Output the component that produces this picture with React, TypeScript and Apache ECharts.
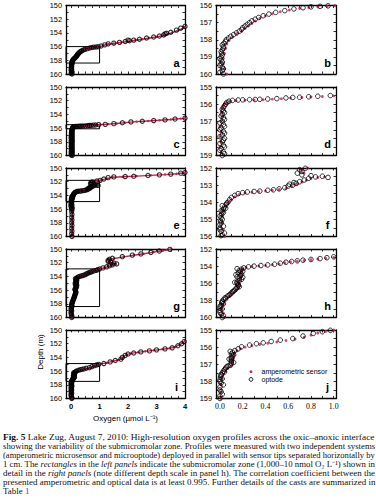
import React, { useEffect, useRef } from "react";
import * as echarts from "echarts";

// ---------- data: [oxygen (µmol/L), depth (m)] ----------
const castA_optode: number[][] = [
  [0.03,160.0],[0.0,159.9],[0.02,159.8],[0.03,159.7],[0.02,159.6],[0.0,159.5],[0.01,159.4],[0.02,159.3],[0.01,159.2],[0.0,159.1],
  [0.01,159.0],[0.02,158.9],[0.015,158.8],[0.01,158.7],[0.02,158.6],[0.03,158.5],[0.03,158.4],[0.02,158.3],[0.035,158.2],[0.05,158.1],
  [0.055,158.0],[0.075,157.9],[0.095,157.8],[0.12,157.7],[0.145,157.6],[0.17,157.5],[0.19,157.4],[0.2,157.3],[0.22,157.2],[0.24,157.1],
  [0.26,157.0],[0.28,156.9],[0.31,156.8],[0.34,156.7],[0.38,156.6],[0.43,156.5],[0.49,156.4],[0.57,156.3],[0.65,156.2],[0.73,156.13],
  [0.8,156.08],[0.88,156.05],[0.95,156.02],[1.05,155.92],[1.18,155.75],[1.3,155.6],[1.5,155.5],[1.7,155.38],[1.9,155.25],[2.05,155.15],
  [2.0,155.05],[2.2,155.05],[2.4,154.92],[2.65,154.75],[2.9,154.6],[3.1,154.45],[3.25,154.3],[3.3,154.15],[3.35,154.05],[3.5,153.9],
  [3.7,153.6],[3.85,153.3],[4.0,153.05]
];
const castA_amperometric: number[][] = [
  [0.06,160.0],[0.04,159.7],[0.03,159.4],[0.03,159.1],[0.04,158.8],[0.05,158.5],[0.06,158.25],[0.08,158.05],[0.11,157.85],[0.15,157.65],
  [0.19,157.5],[0.22,157.35],[0.25,157.2],[0.28,157.05],[0.31,156.9],[0.35,156.75],[0.4,156.6],[0.46,156.48],[0.53,156.36],[0.61,156.26],
  [0.7,156.17],[0.78,156.12],[0.86,156.08],[0.94,156.04],[1.01,156.0],[1.15,155.82],[1.3,155.66],[1.5,155.55],[1.75,155.4],[2.0,155.25],
  [2.25,155.08],[2.5,154.92],[2.75,154.75],[3.0,154.58],[3.2,154.42],[3.4,154.2],[3.55,153.95],[3.75,153.65],[3.9,153.4],[4.0,153.2]
];

const castB_optode: number[][] = [
  [0.04,160.0],[0.0,159.9],[0.03,159.8],[0.01,159.7],[0.04,159.6],[0.0,159.5],[0.02,159.4],[0.04,159.3],[0.03,159.2],[0.0,159.1],
  [0.02,159.0],[0.04,158.9],[0.03,158.8],[0.0,158.7],[0.01,158.6],[0.04,158.5],[0.03,158.4],[0.0,158.3],[0.02,158.2],[0.03,158.1],
  [0.04,158.0],[0.0,157.9],[0.02,157.8],[0.04,157.7],[0.03,157.6],[0.0,157.5],[0.01,157.4],[0.04,157.3],[0.03,157.2],[0.0,157.1],
  [0.02,157.0],[0.04,156.9],[0.03,156.8],[0.01,156.7],[0.02,156.6],[0.04,156.5],[0.03,156.4],[0.02,156.3],
  [0.03,156.2],[0.04,156.1],[0.05,156.0],[0.06,155.9],[0.08,155.83],[0.11,155.78],[0.16,155.76],[0.2,155.75],[0.26,155.74],[0.31,155.73],
  [0.35,155.72],[0.42,155.7],[0.5,155.68],[0.58,155.64],[0.64,155.61],[0.7,155.6],[0.78,155.57],[0.86,155.54],[0.97,155.5],[1.2,155.45],
  [1.5,155.35],[1.8,155.22],[2.1,155.1],[2.5,155.0],[2.9,154.9],[3.3,154.8],[3.65,154.68],[4.0,154.55]
];
const castB_amperometric: number[][] = [
  [0.05,160.0],[0.0,159.7],[0.01,159.4],[0.0,159.1],[0.01,158.8],[0.0,158.5],[0.01,158.2],[0.0,157.9],[0.01,157.6],[0.0,157.3],
  [0.01,157.0],[0.02,156.7],[0.01,156.45],[0.02,156.25],[0.03,156.1],[0.04,156.0],[0.06,155.92],[0.09,155.85],[0.14,155.8],[0.22,155.78],
  [0.3,155.76],[0.38,155.74],[0.46,155.71],[0.54,155.68],[0.62,155.64],[0.72,155.61],[0.8,155.58],[0.9,155.55],[1.0,155.52],[1.3,155.42],
  [1.6,155.32],[1.9,155.2],[2.3,155.06],[2.7,154.96],[3.1,154.86],[3.5,154.74],[3.85,154.62],[4.0,154.58]
];

const castC_optode: number[][] = [
  [0.03,160.0],[0.02,159.6],[0.03,159.2],[0.02,158.8],[0.03,158.4],[0.02,158.0],[0.03,157.6],[0.02,157.2],[0.03,156.8],[0.02,156.4],
  [0.03,156.1],[0.01,155.95],[0.02,155.9],[0.04,155.8],[0.01,155.7],[0.0,155.6],[0.0,155.5],[0.03,155.4],[0.0,155.3],[0.01,155.2],
  [0.005,155.1],[0.02,155.0],[0.01,154.9],[0.0,154.8],[0.015,154.7],[0.03,154.6],[0.02,154.55],[0.01,154.5],[0.03,154.4],[0.05,154.35],
  [0.04,154.27],[0.02,154.2],[0.055,154.12],[0.06,154.05],[0.07,154.0],[0.085,153.85],[0.1,153.72],[0.13,153.6],[0.16,153.5],[0.2,153.44],
  [0.24,153.4],[0.3,153.37],[0.35,153.35],[0.42,153.3],[0.47,153.27],[0.52,153.22],[0.57,153.15],[0.6,153.05],[0.64,153.0],[0.61,152.95],
  [0.67,152.9],[0.65,152.85],[0.7,152.8],[0.74,152.7],[0.78,152.6],[0.84,152.52],[0.9,152.48],[0.95,152.55],[0.8,152.45],[0.72,152.4],
  [0.68,152.3],[0.72,152.2],[0.7,152.1],[0.75,152.02],[0.9,151.9],[1.02,151.8],[1.15,151.6],[1.3,151.4],[1.5,151.3],[1.9,151.25],
  [2.2,151.2],[2.7,151.1],[3.1,151.0],[3.5,150.9],[3.85,150.75],[4.0,150.65]
];
const castC_amperometric: number[][] = [
  [0.05,160.0],[0.04,159.5],[0.05,159.0],[0.04,158.5],[0.05,158.0],[0.04,157.5],[0.05,157.0],[0.04,156.5],[0.04,156.0],[0.03,155.6],
  [0.02,155.2],[0.02,154.8],[0.03,154.5],[0.05,154.25],[0.07,154.05],[0.1,153.85],[0.13,153.68],[0.17,153.55],[0.22,153.46],[0.28,153.42],
  [0.34,153.38],[0.4,153.34],[0.46,153.3],[0.52,153.26],[0.58,153.2],[0.63,153.08],[0.68,152.95],[0.72,152.82],[0.76,152.72],[0.8,152.62],
  [0.86,152.56],[0.92,152.52],[0.74,152.3],[0.72,152.15],[0.77,152.0],[0.92,151.88],[1.05,151.78],[1.25,151.55],[1.45,151.35],[1.8,151.28],
  [2.3,151.18],[2.8,151.08],[3.3,150.96],[3.7,150.83],[4.0,150.7]
];

const castD_optode: number[][] = [
  [0.02,160.0],[0.03,159.8],[0.01,159.6],[0.0,159.4],[0.0,159.2],[0.02,159.0],[0.0,158.9],[0.0,158.7],[0.01,158.6],[0.03,158.4],
  [0.015,158.3],[0.02,158.2],[0.02,158.1],[0.03,157.9],[0.05,157.8],[0.045,157.7],[0.065,157.5],[0.08,157.4],
  [0.088,157.3],[0.1,157.15],[0.11,157.0],[0.12,156.9],[0.13,156.8],[0.14,156.65],[0.15,156.5],[0.17,156.4],[0.16,156.3],[0.16,156.15],[0.15,156.0],[0.13,155.9],[0.15,155.85],
  [0.17,155.7],[0.19,155.55],[0.17,155.4],[0.2,155.3],[0.15,155.25],[0.18,155.1],[0.14,155.0],[0.19,154.95],[0.16,154.8],[0.18,154.65],[0.2,154.6],[0.17,154.5],[0.19,154.35],[0.15,154.3],
  [0.21,154.2],[0.25,154.08],[0.3,154.0],[0.36,153.93],[0.42,153.86],[0.48,153.78],[0.53,153.66],[0.58,153.54],[0.63,153.46],[0.68,153.38],
  [0.73,153.3],[0.8,153.22],[0.88,153.12],[0.94,153.02],[1.0,152.92],[1.12,152.75],[1.25,152.6],[1.35,152.45],[1.45,152.32],[1.6,152.18],
  [1.5,152.05],[1.4,151.95],[1.3,151.82],[1.3,151.65],[1.35,151.5],[1.45,151.35],[1.8,151.12],[2.15,150.9],[2.45,150.72],[2.8,150.5],
  [3.1,150.3],[3.47,150.05]
];
const castD_amperometric: number[][] = [
  [0.04,160.0],[0.03,159.5],[0.02,159.0],[0.03,158.5],[0.04,158.1],[0.06,157.8],[0.08,157.55],[0.1,157.3],[0.12,157.1],[0.14,156.85],
  [0.16,156.6],[0.17,156.35],[0.17,156.1],[0.16,155.85],[0.18,155.6],[0.18,155.3],[0.19,155.05],[0.18,154.8],[0.19,154.55],[0.2,154.3],
  [0.23,154.15],[0.28,154.05],[0.34,153.98],[0.4,153.92],[0.46,153.84],[0.52,153.74],[0.57,153.6],[0.62,153.5],[0.68,153.42],[0.74,153.34],
  [0.8,153.26],[0.86,153.18],[0.93,153.08],[1.0,152.98],[1.15,152.75],[1.3,152.55],[1.45,152.38],[1.58,152.22],[1.45,152.05],[1.32,151.88],
  [1.32,151.6],[1.5,151.38],[1.85,151.15],[2.2,150.92],[2.55,150.7],[2.9,150.45],[3.2,150.25],[3.5,150.05]
];

const castE_optode: number[][] = [
  [0.02,160.0],[0.03,159.9],[0.01,159.7],[0.0,159.55],[0.0,159.4],[0.02,159.25],[0.01,159.1],[0.0,159.0],[0.0,158.85],[0.02,158.75],
  [0.01,158.6],[0.0,158.5],[0.0,158.33],[0.03,158.2],[0.01,158.1],[0.0,158.0],[0.0,157.9],[0.02,157.85],[0.005,157.75],[0.01,157.65],
  [0.01,157.6],[0.02,157.5],[0.04,157.45],[0.03,157.4],[0.04,157.3],[0.05,157.22],[0.06,157.15],[0.07,157.1],[0.09,157.06],[0.1,156.95],
  [0.12,156.9],[0.1,156.85],[0.1,156.77],[0.08,156.7],[0.1,156.68],[0.1,156.6],[0.11,156.5],[0.12,156.45],[0.1,156.4],[0.11,156.3],
  [0.09,156.25],[0.13,156.2],[0.16,156.1],[0.19,155.98],[0.26,155.88],[0.32,155.8],[0.38,155.75],[0.45,155.67],[0.53,155.59],[0.64,155.5],
  [0.73,155.35],[0.82,155.2],[0.9,155.1],[0.97,155.02],[1.15,154.9],[1.37,154.66],[1.55,154.45],[1.75,154.25],[1.8,154.0],[1.9,153.7],
  [2.0,153.5],[2.2,153.35],[2.45,153.2],[2.75,153.05],[3.0,152.9],[3.3,152.75],[3.55,152.6],[3.75,152.3],[3.88,152.0],[3.97,151.7]
];
const castE_amperometric: number[][] = [
  [0.03,160.0],[0.02,159.5],[0.01,159.0],[0.01,158.6],[0.01,158.2],[0.02,157.85],[0.03,157.6],[0.05,157.4],[0.07,157.25],[0.1,157.1],
  [0.11,156.95],[0.11,156.8],[0.12,156.65],[0.12,156.5],[0.13,156.35],[0.15,156.22],[0.18,156.1],[0.22,156.0],[0.28,155.92],[0.35,155.85],
  [0.42,155.78],[0.5,155.7],[0.58,155.62],[0.66,155.54],[0.74,155.42],[0.8,155.3],[0.86,155.18],[0.93,155.08],[1.0,155.0],[1.25,154.8],
  [1.45,154.58],[1.65,154.38],[1.8,154.15],[1.85,153.85],[1.95,153.6],[2.1,153.42],[2.35,153.27],[2.6,153.12],[2.9,152.97],[3.2,152.82],
  [3.45,152.68],[3.65,152.48],[3.82,152.15],[3.93,151.85],[4.0,151.6]
];

const optodeCasts = [castA_optode, castB_optode, castC_optode, castD_optode, castE_optode];
const amperometricCasts = [castA_amperometric, castB_amperometric, castC_amperometric, castD_amperometric, castE_amperometric];

// submicromolar-zone rectangles (depth top, depth bottom) and oxygen upper bound
const rectDepths: number[][] = [[156.0, 158.4], [155.5, 156.1], [151.8, 154.9], [152.9, 158.4], [154.9, 157.5]];
const rectOxygenMax = 1;

// axis ranges and tick labels
const leftXRange = [-0.18, 4];
const rightXRange = [-0.035, 1.02];
const leftXLabels = [0, 1, 2, 3, 4];
const leftXTicks = [0, 0.25, 0.5, 0.75, 1, 1.25, 1.5, 1.75, 2, 2.25, 2.5, 2.75, 3, 3.25, 3.5, 3.75, 4];
const rightXLabels = [0, 0.2, 0.4, 0.6, 0.8, 1.0];
const rightXTicks = [0, 0.1, 0.2, 0.3, 0.4, 0.5, 0.6, 0.7, 0.8, 0.9, 1.0];
const leftYRange = [150, 160];
const leftYLabels = [150, 152, 154, 156, 158, 160];
const leftYTicks = [150, 151, 152, 153, 154, 155, 156, 157, 158, 159, 160];
const rightYRanges: number[][] = [[156, 160], [155, 159], [152, 156], [152, 160], [155, 159]];
const rightYLabels: number[][] = [
  [156, 157, 158, 159, 160], [155, 156, 157, 158, 159], [152, 153, 154, 155, 156],
  [152, 154, 156, 158, 160], [155, 156, 157, 158, 159]
];
const rightYTicks: number[][] = [
  [156, 156.5, 157, 157.5, 158, 158.5, 159, 159.5, 160],
  [155, 155.5, 156, 156.5, 157, 157.5, 158, 158.5, 159],
  [152, 152.5, 153, 153.5, 154, 154.5, 155, 155.5, 156],
  [152, 153, 154, 155, 156, 157, 158, 159, 160],
  [155, 155.5, 156, 156.5, 157, 157.5, 158, 158.5, 159]
];
const panelLetters = ["a", "b", "c", "d", "e", "f", "g", "h", "i", "j"];
const legendNames = ["amperometric sensor", "optode"];

const captionLines = [
  "{b|Fig. 5} Lake Zug, August 7, 2010: High-resolution oxygen profiles across the oxic\u2013anoxic interface",
  "showing the variability of the submicromolar zone. Profiles were measured with two independent systems",
  "(amperometric microsensor and microoptode) deployed in parallel with sensor tips separated horizontally by",
  "1 cm. The {i|rectangles} in the {i|left panels} indicate the submicromolar zone (1,000\u201310 nmol O\u2082 L\u207B\u00B9) shown in",
  "detail in the {i|right panels} (note different depth scale in panel h). The correlation coefficient between the",
  "presented amperometric and optical data is at least 0.995. Further details of the casts are summarized in",
  "Table {l|1}"
];

// ---------- layout ----------
const W = 376, H = 504;
const ROW_TOPS = [5.5, 87, 168, 249, 330];
const ROW_H = 68.5;
const LEFT_X = 66, LEFT_W = 119;
const RIGHT_X = 216, RIGHT_W = 120;
const RED = "#cc1f4e";
const SANS = "Liberation Sans";
const SERIF = "Liberation Serif";
const CAP_FS = 8.2;
const CAP_X = 3, CAP_W = 372;

function captionScales(): number[] {
  let ctx: CanvasRenderingContext2D | null = null;
  try { ctx = document.createElement("canvas").getContext("2d"); } catch (e) { ctx = null; }
  if (!ctx) return captionLines.map(() => 1.1);
  const widths = captionLines.map((line) => {
    const parts = line.split(/(\{\w\|[^}]*\})/).filter((s) => s.length > 0);
    let w = 0;
    parts.forEach((p) => {
      const m = p.match(/^\{(\w)\|(.*)\}$/);
      const tag = m ? m[1] : "";
      const txt = m ? m[2] : p;
      ctx!.font = `${tag === "i" ? "italic " : ""}${tag === "b" ? "bold " : ""}${CAP_FS}px "${SERIF}"`;
      w += ctx!.measureText(txt).width;
    });
    return w;
  });
  const scales = widths.map((w) => Math.max(0.9, Math.min(1.3, CAP_W / w)));
  const body = scales.slice(0, scales.length - 1);
  const avg = body.reduce((a, b) => a + b, 0) / body.length;
  scales[scales.length - 1] = avg;
  return scales;
}

function buildOption() {
  const grid: any[] = [];
  const xAxis: any[] = [];
  const yAxis: any[] = [];
  const series: any[] = [];
  const graphic: any[] = [];

  const axisLine = { show: true, onZero: false, lineStyle: { color: "#000", width: 1.3 } };

  for (let k = 0; k < 5; k++) {
    for (let side = 0; side < 2; side++) {
      const gi = k * 2 + side;
      const isLeft = side === 0;
      const isBottom = k === 4;
      grid.push({
        left: isLeft ? LEFT_X : RIGHT_X,
        top: ROW_TOPS[k],
        width: isLeft ? LEFT_W : RIGHT_W,
        height: ROW_H,
        containLabel: false
      });
      const xr = isLeft ? leftXRange : rightXRange;
      const xTicks = isLeft ? leftXTicks : rightXTicks;
      const xLabels = isLeft ? leftXLabels : rightXLabels;
      const baseX = {
        type: "value", gridIndex: gi, min: xr[0], max: xr[1],
        axisLine, splitLine: { show: false },
        axisTick: { show: true, inside: true, length: 2.5, customValues: xTicks, lineStyle: { color: "#000", width: 0.8 } }
      };
      xAxis.push({
        ...baseX, position: "bottom",
        axisLabel: {
          show: isBottom, customValues: xLabels, margin: 4, color: "#000",
          fontFamily: isLeft ? SANS : SERIF, fontSize: isLeft ? 7.6 : 7.8, fontWeight: isLeft ? "bold" : "normal",
          formatter: (v: number) => (isLeft ? String(v) : v.toFixed(1))
        }
      });
      xAxis.push({ ...baseX, position: "top", axisLabel: { show: false } });

      const yr = isLeft ? leftYRange : rightYRanges[k];
      const yTicks = isLeft ? leftYTicks : rightYTicks[k];
      const yLabels = isLeft ? leftYLabels : rightYLabels[k];
      const baseY = {
        type: "value", gridIndex: gi, min: yr[0], max: yr[1], inverse: true,
        axisLine, splitLine: { show: false },
        axisTick: { show: true, inside: true, length: 2.5, customValues: yTicks, lineStyle: { color: "#000", width: 0.8 } }
      };
      yAxis.push({
        ...baseY, position: "left",
        axisLabel: { show: true, customValues: yLabels, margin: 4, color: "#000", fontFamily: SANS, fontSize: 7.4 }
      });
      yAxis.push({ ...baseY, position: "right", axisLabel: { show: false } });

      const ax = { xAxisIndex: gi * 2, yAxisIndex: gi * 2 };
      if (isLeft) {
        series.push({
          type: "line", name: legendNames[0], ...ax, data: amperometricCasts[k],
          symbol: "circle", symbolSize: 2.4, showAllSymbol: true,
          itemStyle: { color: RED }, lineStyle: { color: RED, width: 1.4 }, z: 2, silent: true
        });
        series.push({
          type: "scatter", name: legendNames[1], ...ax, data: optodeCasts[k],
          symbol: "circle", symbolSize: 4.2,
          itemStyle: { color: "rgba(0,0,0,0)", borderColor: "#000", borderWidth: 1.15 }, z: 3, silent: true,
          markArea: {
            silent: true,
            itemStyle: { color: "rgba(0,0,0,0)", borderColor: "#000", borderWidth: 1 },
            data: [[{ coord: [leftXRange[0], rectDepths[k][0]] }, { coord: [rectOxygenMax, rectDepths[k][1]] }]]
          }
        });
      } else {
        series.push({
          type: "scatter", name: legendNames[0], ...ax, data: amperometricCasts[k],
          symbol: "circle", symbolSize: 2.9, itemStyle: { color: RED }, z: 2, silent: true
        });
        series.push({
          type: "scatter", name: legendNames[1], ...ax, data: optodeCasts[k],
          symbol: "circle", symbolSize: 4.6,
          itemStyle: { color: "rgba(0,0,0,0)", borderColor: "#000", borderWidth: 1.0 }, z: 3, silent: true
        });
      }

      // panel letter
      const gx = (isLeft ? LEFT_X + LEFT_W : RIGHT_X + RIGHT_W) - 8.5;
      graphic.push({
        type: "text", x: gx, y: ROW_TOPS[k] + ROW_H - 11.5, z: 10,
        style: { text: panelLetters[gi], fontFamily: SANS, fontWeight: "bold", fontSize: 11, fill: "#000", align: "center", verticalAlign: "middle" }
      });
    }
  }

  // legend inside panel j
  graphic.push({ type: "circle", shape: { cx: 251, cy: 371.7, r: 1.4 }, style: { fill: RED } });
  graphic.push({ type: "circle", shape: { cx: 251, cy: 379.4, r: 1.9 }, style: { fill: "none", stroke: "#000", lineWidth: 0.9 } });
  graphic.push({ type: "text", x: 261.5, y: 371.7, style: { text: legendNames[0], fontFamily: SANS, fontSize: 7, fill: "#000", verticalAlign: "middle" } });
  graphic.push({ type: "text", x: 261.5, y: 379.4, style: { text: legendNames[1], fontFamily: SANS, fontSize: 7, fill: "#000", verticalAlign: "middle" } });

  // axis titles
  graphic.push({
    type: "text", x: 40, y: 352, rotation: Math.PI / 2,
    style: { text: "Depth (m)", fontFamily: SANS, fontSize: 8, fill: "#000", align: "center", verticalAlign: "middle" }
  });
  graphic.push({
    type: "text", x: 125.5, y: 418.5,
    style: { text: "Oxygen (\u00B5mol L\u207B\u00B9)", fontFamily: SANS, fontSize: 8, fill: "#000", align: "center", verticalAlign: "middle" }
  });

  // caption
  const scales = captionScales();
  const capTop = 437.5, capStep = 9.0;
  captionLines.forEach((line, i) => {
    graphic.push({
      type: "text", x: CAP_X, y: capTop + i * capStep, scaleX: scales[i], scaleY: 1,
      style: {
        text: line, fontFamily: SERIF, fontSize: CAP_FS, fill: "#111", verticalAlign: "middle",
        rich: {
          b: { fontFamily: SERIF, fontSize: CAP_FS, fontWeight: "bold", fill: "#111" },
          i: { fontFamily: SERIF, fontSize: CAP_FS, fontStyle: "italic", fill: "#111" },
          l: { fontFamily: SERIF, fontSize: CAP_FS, fill: "#2a4fb0" }
        }
      }
    });
  });

  return { animation: false, backgroundColor: "#fff", grid, xAxis, yAxis, series, graphic };
}

export default function App() {
  const ref = useRef<HTMLDivElement>(null);
  useEffect(() => {
    if (!ref.current) return;
    const chart = echarts.init(ref.current, undefined, { renderer: "svg", width: W, height: H });
    chart.setOption(buildOption() as any);
    return () => chart.dispose();
  }, []);
  return <div ref={ref} style={{ position: "fixed", left: 0, top: 0, width: W, height: H, background: "#fff" }} />;
}
